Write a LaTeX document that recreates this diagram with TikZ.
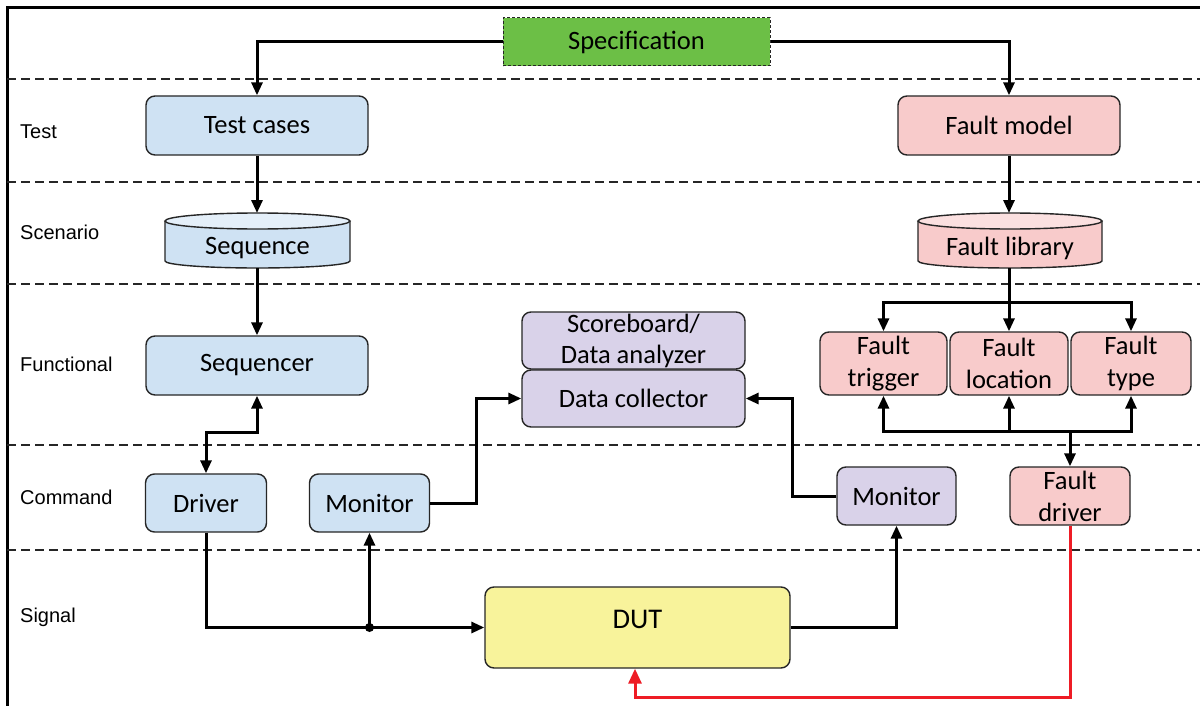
\documentclass[tikz,border=0pt]{standalone}
\usepackage{fontspec}
\setmainfont{Carlito}
\newfontfamily\labfont{Liberation Sans}
\usetikzlibrary{arrows.meta}

\definecolor{blueF}{HTML}{CFE2F3}
\definecolor{blueT}{HTML}{E4EFF9}
\definecolor{pinkF}{HTML}{F8CBCB}
\definecolor{pinkT}{HTML}{FBE0E0}
\definecolor{purpF}{HTML}{D9D2E9}
\definecolor{yellF}{HTML}{F8F39B}
\definecolor{specF}{HTML}{6CBF46}
\definecolor{redL}{HTML}{EE1C25}

\begin{document}
\begin{tikzpicture}[x=1pt,y=-1pt,
  box/.style={draw=black!85, line width=1.4pt, rounded corners=9pt,
    font=\fontsize{26.5}{32}\selectfont, align=center, inner sep=0pt},
  conn/.style={line width=3pt, -{Triangle[length=13pt,width=11pt]}},
  wire/.style={line width=3pt},
  lane/.style={dashed, dash pattern=on 9pt off 5pt, line width=1.4pt, black!85},
  lanelabel/.style={font=\labfont\fontsize{20}{22}\selectfont, anchor=west, inner sep=0pt},
  cylline/.style={draw=black!85, line width=1.4pt}]

\useasboundingbox (0,0) rectangle (1200,706);
\fill[white] (0,0) rectangle (1200,706);

% frame
\draw[line width=3pt] (7,706) -- (7,8) -- (1200,8);

% lane separators
\foreach \yy in {79,182,284,445,550}
  \draw[lane] (7,\yy) -- (1200,\yy);

% lane titles
\node[lanelabel] (lTest) at (20,132) {Test};
\node[lanelabel] (lScen) at (20,232) {Scenario};
\node[lanelabel] (lFunc) at (20,364) {Functional};
\node[lanelabel] (lCmd) at (20,497) {Command};
\node[lanelabel] (lSig) at (20,617) {Signal};

% specification
\node[box, rounded corners=0pt, dashed, dash pattern=on 3pt off 2pt, line width=1pt,
      fill=specF, minimum width=267, minimum height=48] (spec) at (636.5,42) {Specification};

% test layer
\node[box, fill=blueF, minimum width=222, minimum height=59] (tc) at (257,125.5) {Test cases};
\node[box, fill=pinkF, minimum width=222, minimum height=59] (fm) at (1009,125.5) {Fault model};

% scenario layer: cylinders
\fill[blueF] (165,221) rectangle (350,261);
\fill[blueF] (257.5,261) ellipse (92.5 and 7);
\draw[cylline] (165,221) -- (165,261) arc[start angle=180, end angle=0, x radius=92.5, y radius=7] -- (350,221);
\draw[cylline, fill=blueT] (257.5,221) ellipse (92.5 and 8);
\node[font=\fontsize{26.5}{30}\selectfont, inner sep=0pt] (seq) at (257.5,248) {Sequence};
\coordinate (seqtop) at (257,213);
\coordinate (seqbot) at (257,268);

\fill[pinkF] (918,221) rectangle (1102,261);
\fill[pinkF] (1010,261) ellipse (92 and 7);
\draw[cylline] (918,221) -- (918,261) arc[start angle=180, end angle=0, x radius=92, y radius=7] -- (1102,221);
\draw[cylline, fill=pinkT] (1010,221) ellipse (92 and 8);
\node[font=\fontsize{26.5}{30}\selectfont, inner sep=0pt] (flib) at (1010,248) {Fault library};
\coordinate (flibtop) at (1009,213);
\coordinate (flibbot) at (1009,268);

% functional layer
\node[box, fill=blueF, minimum width=222, minimum height=59] (sqr) at (257,365.5) {Sequencer};
\node[box, fill=purpF, minimum width=223, minimum height=57] (sb) at (633.5,340.5) {Scoreboard/\\[-1pt]Data analyzer};
\node[box, fill=purpF, minimum width=223, minimum height=57] (dc) at (633.5,398.5) {Data collector};
\node[box, fill=pinkF, minimum width=127, minimum height=63] (ft) at (883.5,363.5) {\raisebox{-3pt}{Fault}\\\raisebox{-3pt}{trigger}};
\node[box, fill=pinkF, minimum width=118, minimum height=63] (fl) at (1009,363.5) {\raisebox{-2pt}{Fault}\\\raisebox{-2pt}{location}};
\node[box, fill=pinkF, minimum width=120, minimum height=63] (fy) at (1131,363.5) {\raisebox{-3pt}{Fault}\\\raisebox{-3pt}{type}};

% command layer
\node[box, fill=blueF, minimum width=121, minimum height=58] (drv) at (206,503) {Driver};
\node[box, fill=blueF, minimum width=120, minimum height=58] (mon1) at (369.5,503) {Monitor};
\node[box, fill=purpF, minimum width=119, minimum height=58] (mon2) at (896.5,496) {Monitor};
\node[box, fill=pinkF, minimum width=120, minimum height=58] (fd) at (1070,496) {Fault\\[0pt]driver};

% signal layer
\node[box, fill=yellF, minimum width=305, minimum height=81,
      font=\fontsize{28.5}{32}\selectfont] (dut) at (637.5,627.5) {\raisebox{16pt}{DUT}};

% connections: specification to the two branches
\draw[conn] (spec.west) -| (tc.north);
\draw[conn] (spec.east) -| (fm.north);
\draw[conn] (tc.south) -- (seqtop);
\draw[conn] (fm.south) -- (flibtop);
\draw[conn] (seqbot) -- (sqr.north);

% sequencer <-> driver
\coordinate (sqj) at (257,432);
\draw[line width=3pt, {Triangle[length=13pt,width=11pt]}-{Triangle[length=13pt,width=11pt]}]
  (sqr.south) -- (sqj) -| (drv.north);

% fault library fan-out
\coordinate (fsplit) at (1009,302);
\draw[wire] (flibbot) -- (fsplit);
\draw[conn] (fsplit) -| (ft.north);
\draw[conn] (fsplit) -| (fy.north);
\draw[conn] (fsplit) -- (fl.north);

% fault driver bus
\coordinate (fbus) at (1070,431);
\draw[conn] (fbus) -| (ft.south);
\draw[conn] (fbus) -| (fy.south);
\draw[conn] (fbus) -| (fl.south);
\draw[conn] (fbus) -- (fd.north);

% driver to DUT with monitor tap
\draw[conn] (drv.south) |- (dut.west);
\coordinate (tap) at (369.5,627.5);
\fill (tap) circle (4.5);
\draw[conn] (tap) -- (mon1.south);

% monitors to data collector
\coordinate (m1r) at (476,503);
\draw[conn] (mon1.east) -- (m1r) |- (dc.west);
\coordinate (m2l) at (792,496);
\draw[conn] (mon2.west) -- (m2l) |- (dc.east);
\draw[conn] (dut.east) -| (mon2.south);

% fault injection path
\coordinate (rc) at (635,697);
\draw[conn, redL, -{Triangle[length=15pt,width=13pt]}] (fd.south) |- (rc) -- (rc |- dut.south);

\end{tikzpicture}
\end{document}
